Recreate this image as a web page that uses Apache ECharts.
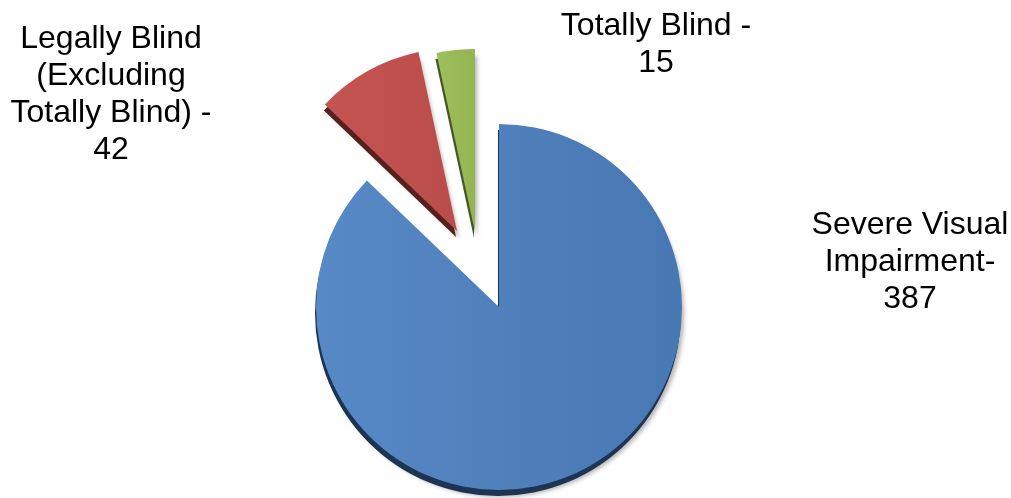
<!DOCTYPE html>
<html>
<head>
<meta charset="utf-8">
<script src="https://cdn.jsdelivr.net/npm/echarts@6/dist/echarts.min.js"></script>
<style>
  html, body { margin: 0; padding: 0; background: #ffffff; }
  #chart { width: 1011px; height: 498px; }
</style>
</head>
<body>
<div id="chart"></div>
<script>
// Visual impairment breakdown
const categories = ['Severe Visual Impairment', 'Legally Blind (Excluding Totally Blind)', 'Totally Blind'];
const values = [387, 42, 15];
// label text shown before each value
const labelPrefixes = ['Severe Visual\nImpairment-\n', 'Legally Blind\n(Excluding\nTotally Blind) -\n', 'Totally Blind -\n'];

// styling per slice: top face colours and the darker side colour
const faceTop = ['#5789c6', '#c45451', '#9fbf5c'];
const faceBottom = ['#4878b3', '#ba4c49', '#95b553'];
const sideColors = ['#1d3452', '#55201e', '#44572a'];
// each slice's pie centre (the two small ones pulled out from the main pie)
const centers = [[499, 307], [457, 231], [475, 232]];
// label anchor per slice
const labelPos = [[910, 262], [111, 95], [656, 45]];
const R = 183;

function sliceData(owner, colorFn, withLabel) {
  return values.map((v, i) => ({
    name: categories[i],
    value: v,
    itemStyle: i === owner ? colorFn(i) : { color: 'rgba(0,0,0,0)', borderWidth: 0, shadowBlur: 0, shadowColor: 'rgba(0,0,0,0)' },
    label: { show: withLabel && i === owner }
  }));
}

const series = [];
// sides (depth) drawn first
values.forEach((_, k) => {
  series.push({
    type: 'pie',
    z: 1,
    silent: true,
    animation: false,
    startAngle: 90,
    clockwise: true,
    radius: R,
    center: [centers[k][0] - 1, centers[k][1] + 6],
    label: { show: false },
    labelLine: { show: false },
    emphasis: { disabled: true },
    data: sliceData(k, i => ({
      color: sideColors[i],
      borderWidth: 0,
      shadowColor: 'rgba(0,0,0,0.3)',
      shadowBlur: 4,
      shadowOffsetX: 3,
      shadowOffsetY: 1
    }), false)
  });
});
// top faces with labels
values.forEach((_, k) => {
  series.push({
    type: 'pie',
    z: 2,
    silent: true,
    animation: false,
    startAngle: 90,
    clockwise: true,
    radius: R,
    center: centers[k],
    avoidLabelOverlap: false,
    label: {
      position: 'inside',
      formatter: p => labelPrefixes[p.dataIndex] + p.value,
      color: '#000000',
      fontFamily: 'Liberation Sans, Arial, sans-serif',
      fontSize: 32,
      lineHeight: 37,
      align: 'center'
    },
    labelLine: { show: false },
    labelLayout: p => ({
      x: labelPos[p.dataIndex][0],
      y: labelPos[p.dataIndex][1],
      align: 'center',
      verticalAlign: 'middle'
    }),
    emphasis: { disabled: true },
    data: sliceData(k, i => ({
      color: new echarts.graphic.LinearGradient(0, 0, 1, 0, [
        { offset: 0, color: faceTop[i] },
        { offset: 1, color: faceBottom[i] }
      ]),
      borderWidth: 0
    }), true)
  });
});

const chart = echarts.init(document.getElementById('chart'), null, { renderer: 'canvas' });
chart.setOption({
  backgroundColor: '#ffffff',
  animation: false,
  series: series
});
</script>
</body>
</html>
